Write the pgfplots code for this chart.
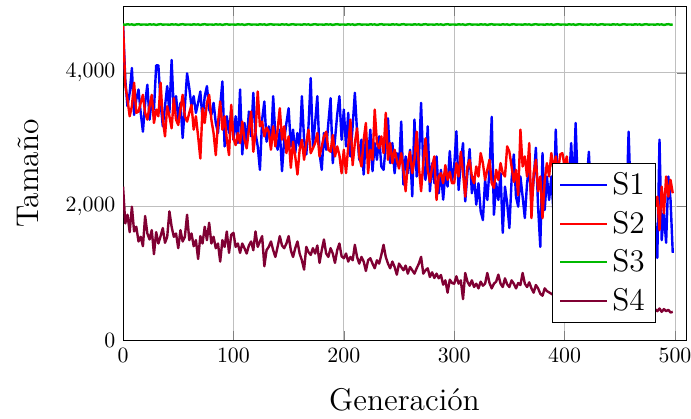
\documentclass[border=0pt]{standalone}
\usepackage{pgfplots}
\usepackage{pgfplotstable}
\pgfplotsset{compat=1.18}
\definecolor{cS1}{RGB}{0,0,255}
\definecolor{cS2}{RGB}{255,0,0}
\definecolor{cS3}{RGB}{0,185,0}
\definecolor{cS4}{RGB}{128,0,51}
\pgfplotstableread{
g s1 s2 s3 s4
0 4720 4720 4720 2300
2 3900 3820 4716 1750
4 3500 3600 4724 1880
6 3700 3350 4719 1620
8 4070 3500 4722 2000
10 3370 3850 4714 1630
12 3600 3400 4721 1700
14 3750 3420 4725 1480
16 3400 3550 4718 1550
18 3120 3670 4720 1410
20 3550 3400 4720 1860
22 3820 3300 4716 1600
24 3300 3500 4724 1510
26 3600 3670 4719 1650
28 3450 3250 4722 1290
30 4110 3450 4714 1620
32 4110 3350 4721 1450
34 3550 3850 4725 1560
36 3200 3300 4718 1680
38 3500 3050 4720 1460
40 3800 3500 4720 1550
42 3400 3350 4716 1930
44 4190 3170 4724 1700
46 3420 3620 4719 1550
48 3650 3300 4722 1600
50 3300 3220 4714 1380
52 3550 3450 4721 1650
54 3025 3670 4725 1480
56 3500 3350 4718 1550
58 3990 3270 4720 1880
60 3770 3400 4720 1500
62 3500 3520 4716 1600
64 3650 3150 4724 1410
66 3400 3350 4719 1500
68 3550 3050 4722 1220
70 3720 2720 4714 1560
72 3300 3470 4721 1450
74 3650 3250 4725 1700
76 3800 3550 4718 1500
78 3450 3670 4720 1760
80 3370 3300 4720 1450
82 3550 3100 4716 1550
84 3250 2770 4724 1380
86 3100 3250 4719 1450
88 3500 3570 4722 1180
90 3870 3150 4714 1500
92 2900 3350 4721 1400
94 3350 3000 4725 1630
96 3100 2770 4718 1310
98 3450 3520 4720 1580
100 3000 3020 4720 1610
102 3350 2920 4716 1400
104 2950 3100 4724 1450
106 3750 2950 4719 1310
108 2780 3270 4722 1450
110 3250 3000 4714 1380
112 2950 2870 4721 1300
114 3420 3150 4725 1420
116 3050 3420 4718 1480
118 3700 2820 4720 1350
120 3100 3100 4720 1630
122 2900 3720 4716 1400
124 2550 3200 4724 1480
126 3300 3270 4719 1560
128 3570 3050 4722 1110
130 2970 3180 4714 1350
132 3200 3120 4721 1400
134 2900 2850 4725 1480
136 3650 3200 4718 1350
138 3050 2900 4720 1250
140 2850 3150 4720 1400
142 3150 3470 4716 1560
144 2530 3000 4724 1420
146 3000 3200 4719 1380
148 3250 2800 4722 1450
150 3470 3050 4714 1560
152 2900 2580 4721 1350
154 3150 2970 4725 1250
156 2800 2750 4718 1380
158 3100 2480 4720 1480
160 2900 2850 4720 1300
162 3650 3000 4716 1200
164 3000 2700 4724 1060
166 2780 2950 4719 1400
168 3200 3150 4722 1320
170 3920 2800 4714 1280
172 2900 2870 4721 1380
174 3250 2950 4725 1300
176 3650 3100 4718 1420
178 2800 2750 4720 1160
180 2550 2900 4720 1350
182 3100 3050 4716 1510
184 2850 3120 4724 1300
186 3250 2850 4719 1250
188 3620 2820 4722 1380
190 2650 3070 4714 1300
192 3000 2750 4721 1160
194 3370 2900 4725 1350
196 3650 2770 4718 1450
198 3000 2500 4720 1260
200 3450 2850 4720 1230
202 2900 2500 4716 1300
204 3400 2900 4724 1180
206 2750 3300 4719 1250
208 3200 2620 4722 1200
210 3700 2950 4714 1430
212 3120 3170 4721 1250
214 2700 2750 4725 1150
216 3000 2600 4718 1250
218 2480 3000 4720 1180
220 3050 3250 4720 1040
222 2750 2500 4716 1200
224 3150 2850 4724 1230
226 2530 2700 4719 1150
228 2950 3450 4722 1080
230 2700 2950 4714 1200
232 3050 2870 4721 1150
234 2600 3050 4725 1280
236 2550 2800 4718 1430
238 2900 3400 4720 1250
240 3320 2700 4720 1150
242 2650 2950 4716 1080
244 2950 2650 4724 1180
246 2500 2850 4719 1100
248 2800 2700 4722 985
250 2600 2570 4714 1150
252 3270 2800 4721 1100
254 2330 2550 4725 1050
256 2750 2230 4718 1120
258 2500 2650 4720 1000
260 2850 2820 4720 1100
262 2155 2500 4716 1050
264 3300 2700 4724 1000
266 2450 3120 4719 1080
268 2700 2600 4722 1150
270 3550 2230 4714 1250
272 2600 2650 4721 1000
274 2400 3020 4725 1050
276 3200 2550 4718 1080
278 2230 2370 4720 950
280 2650 2600 4720 1020
282 2350 2750 4716 935
284 2750 2100 4724 1000
286 2200 2450 4719 930
288 2550 2500 4722 980
290 2105 2350 4714 835
292 2500 2620 4721 900
294 2300 2400 4725 716
296 2830 2520 4718 910
298 2380 2350 4720 860
300 2600 2350 4720 850
302 3125 2650 4716 960
304 2250 2450 4724 850
306 2650 2820 4719 900
308 2950 2500 4722 620
310 2080 2150 4714 1010
312 2500 2600 4721 880
314 2860 2700 4725 820
316 2200 2450 4718 900
318 2450 2350 4720 800
320 2030 2600 4720 850
322 2350 2450 4716 780
324 1930 2800 4724 880
326 1800 2650 4719 820
328 2400 2400 4722 850
330 2100 2550 4714 1010
332 2550 2700 4721 860
334 3340 2350 4725 780
336 1880 2280 4718 850
338 2350 2550 4720 880
340 2100 2400 4720 985
342 2500 2650 4716 850
344 1610 2500 4724 800
346 2300 2450 4719 930
348 2050 2900 4722 840
350 1680 2820 4714 800
352 2400 2600 4721 900
354 2780 2370 4725 850
356 2150 2550 4718 780
358 2000 2170 4720 860
360 2450 3150 4720 830
362 2150 2600 4716 1010
364 1830 2750 4724 850
366 2350 2450 4719 800
368 2600 2950 4722 870
370 2050 1830 4714 780
372 2400 2500 4721 716
374 2880 2700 4725 830
376 2000 2230 4718 780
378 1400 2450 4720 700
380 2800 1830 4720 670
382 1950 2400 4716 780
384 2450 2650 4724 740
386 2100 2450 4719 720
388 2450 2800 4722 700
390 1900 2550 4714 680
392 3150 2750 4721 660
394 2200 2500 4725 700
396 2400 2780 4718 650
398 2050 2800 4720 640
400 2500 2600 4720 620
402 2150 2750 4716 650
404 2350 2400 4724 600
406 2950 2550 4719 630
408 2200 2300 4722 580
410 3250 2500 4714 610
412 2300 2250 4721 570
414 2000 2450 4725 600
416 2450 2150 4718 560
418 2150 2400 4720 590
420 2350 2300 4720 550
422 2820 2550 4716 580
424 2100 2200 4724 540
426 2400 2400 4719 570
428 1850 2100 4722 530
430 2300 2350 4714 560
432 2050 2450 4721 520
434 2450 2200 4725 550
436 1900 2400 4718 510
438 2250 2050 4720 540
440 2000 2300 4720 500
442 2350 2150 4716 530
444 1800 2450 4724 490
446 2200 2200 4719 520
448 2050 2350 4722 480
450 2400 2100 4714 510
452 1750 2400 4721 480
454 2150 2250 4725 500
456 1950 2050 4718 470
458 3120 2350 4720 500
460 2100 2200 4720 460
462 1850 2450 4716 490
464 2300 2100 4724 460
466 1700 2300 4719 480
468 2150 2150 4722 450
470 1950 2400 4714 480
472 2250 2000 4721 450
474 1800 2250 4725 470
476 2100 2350 4718 440
478 1900 2100 4720 470
480 2200 2200 4720 450
482 1700 2000 4716 470
484 1235 2150 4724 440
486 3000 1650 4719 480
488 1500 2300 4722 430
490 1900 1900 4714 470
492 1460 2450 4721 440
494 2450 2150 4725 460
496 2100 2400 4718 420
498 1310 2200 4720 430
}\datatable
\begin{document}
\begin{tikzpicture}
\begin{axis}[
  scale only axis,
  width=258pt, height=153pt,
  xmin=0, xmax=510, ymin=0, ymax=4985,
  xtick={0,100,200,300,400,500},
  ytick={0,2000,4000},
  grid=major,
  xlabel={Generación}, ylabel={Tamaño},
  label style={font=\Large},
  ylabel style={inner ysep=8.8pt},
  xlabel shift=5pt, ylabel shift=0pt,
  legend style={at={(0.947,0.054)}, anchor=south east, font=\Large, draw=black, fill=white, row sep=2pt},
  legend image code/.code={\draw[#1] (0cm,0cm) -- (0.75cm,0cm);},
  legend cell align=left,
  every axis plot/.append style={line width=1.1pt, line join=round},
]
\addplot[color=cS1, no markers] table[x=g, y=s1] {\datatable};
\addplot[color=cS2, no markers] table[x=g, y=s2] {\datatable};
\addplot[color=cS3, no markers] table[x=g, y=s3] {\datatable};
\addplot[color=cS4, no markers] table[x=g, y=s4] {\datatable};
\legend{S1,S2,S3,S4}
\end{axis}
\pgfresetboundingbox
\path[use as bounding box] ([xshift=-56.4pt,yshift=-35.7pt]current axis.south west) rectangle ([xshift=2.3pt,yshift=3.1pt]current axis.north east);
\end{tikzpicture}
\end{document}
